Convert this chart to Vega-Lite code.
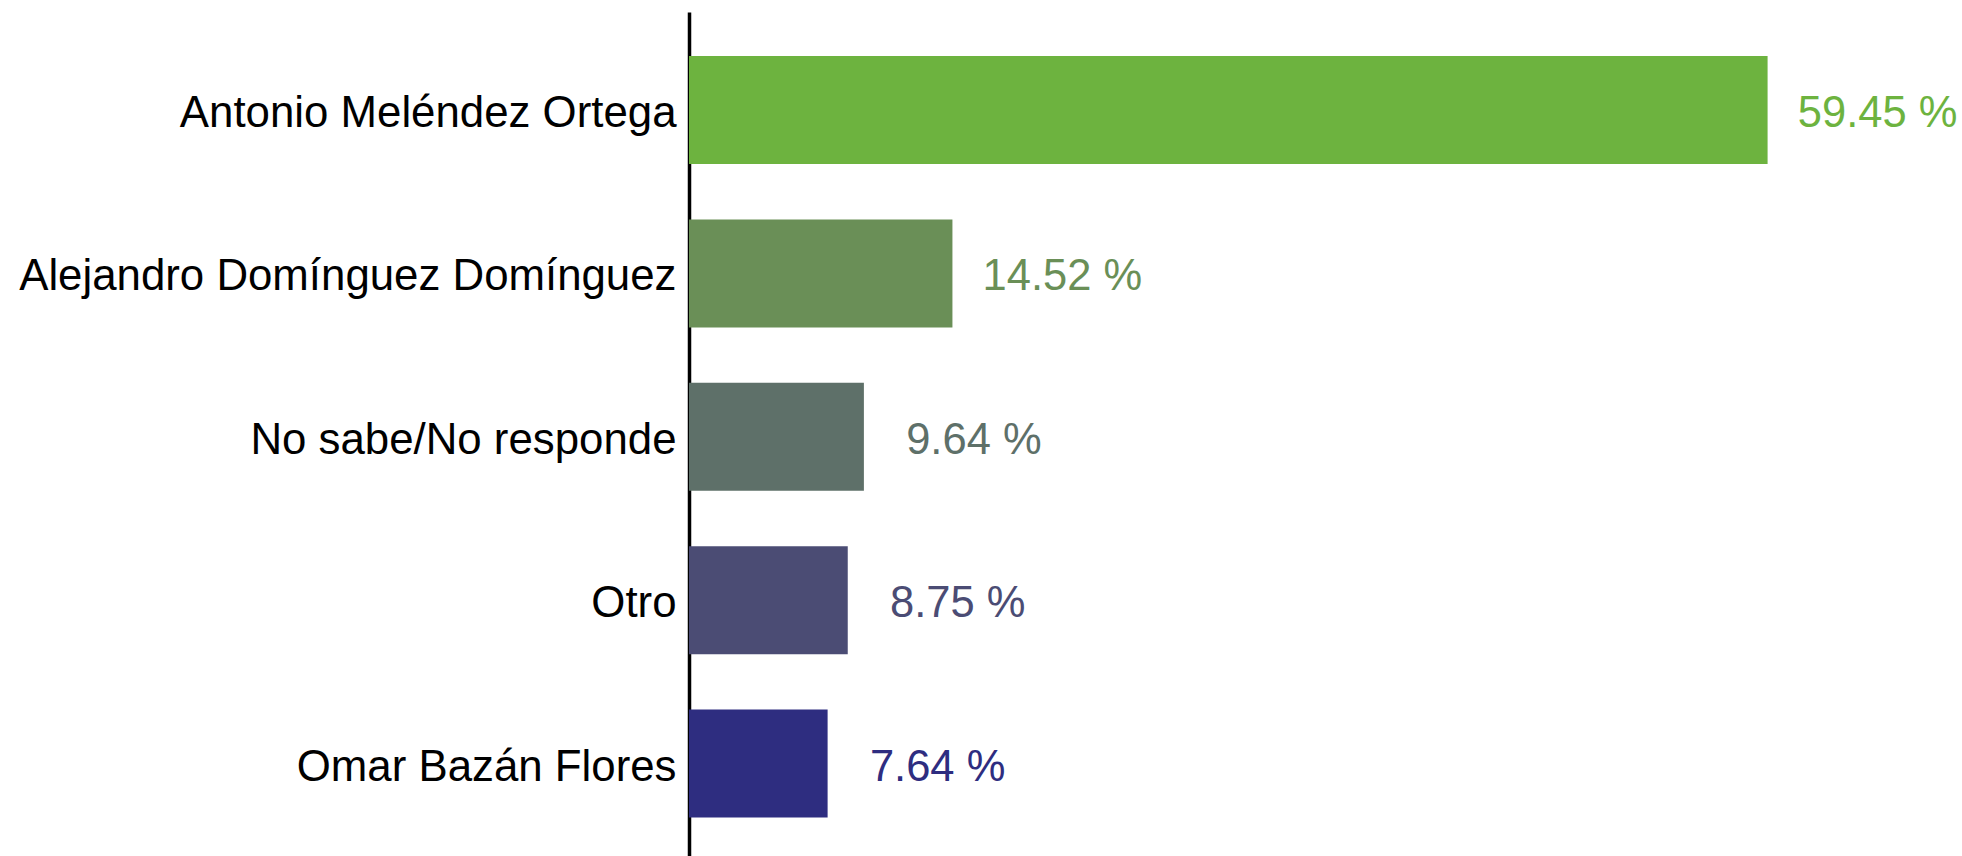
{
  "$schema": "https://vega.github.io/schema/vega-lite/v6.json",
  "autosize": "none",
  "width": 1270,
  "height": 844,
  "padding": {"left": 689, "top": 12, "right": 3, "bottom": 0},
  "background": "white",
  "config": {"view": {"stroke": null}},
  "data": {"values": [
    {"name": "Antonio Meléndez Ortega", "value": 59.45, "label": "59.45 %", "color": "#6db33f"},
    {"name": "Alejandro Domínguez Domínguez", "value": 14.52, "label": "14.52 %", "color": "#6a8f57"},
    {"name": "No sabe/No responde", "value": 9.64, "label": "9.64 %", "color": "#5e7069"},
    {"name": "Otro", "value": 8.75, "label": "8.75 %", "color": "#4b4c74"},
    {"name": "Omar Bazán Flores", "value": 7.64, "label": "7.64 %", "color": "#2e2d80"}
  ]},
  "encoding": {
    "y": {
      "field": "name", "type": "nominal", "sort": null,
      "scale": {"paddingInner": 0.339, "paddingOuter": 0.252, "align": 0.534},
      "axis": {
        "title": null, "ticks": false, "grid": false,
        "labelFont": "Liberation Sans", "labelFontSize": 43.8, "labelColor": "#000000",
        "labelPadding": 13, "labelLimit": 0, "labelOffset": 4,
        "domainColor": "#000000", "domainWidth": 3.5
      }
    },
    "x": {
      "field": "value", "type": "quantitative",
      "scale": {"domain": [0, 70], "nice": false},
      "axis": null
    },
    "color": {"field": "color", "type": "nominal", "scale": null, "legend": null}
  },
  "layer": [
    {"mark": {"type": "bar"}},
    {"mark": {"type": "text", "align": "center", "baseline": "middle", "dx": 110, "dy": 4, "font": "Liberation Sans", "fontSize": 43.5},
     "encoding": {"text": {"field": "label", "type": "nominal"}}}
  ]
}
